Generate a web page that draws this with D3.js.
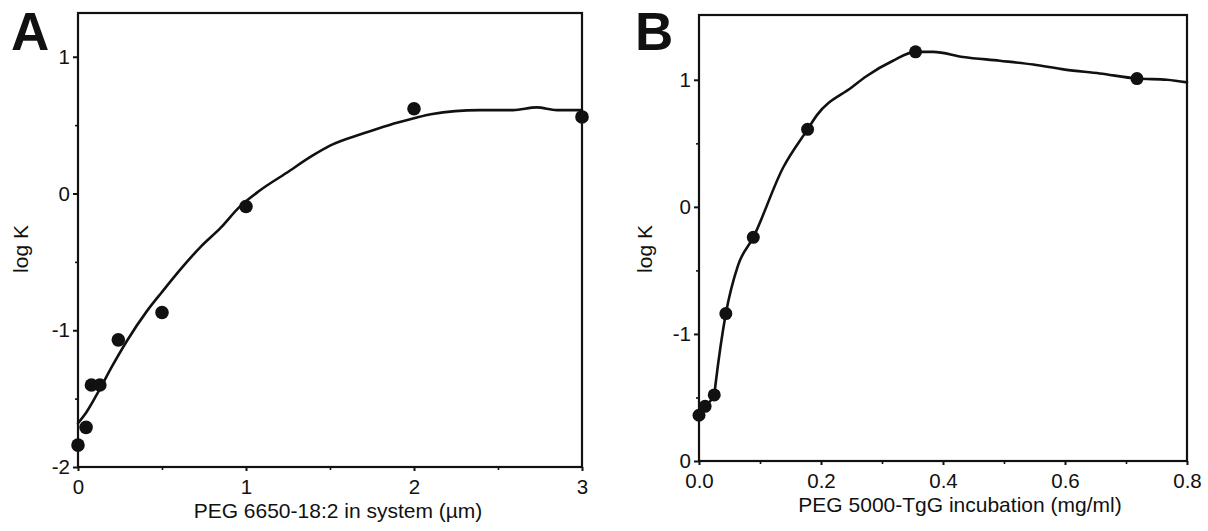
<!DOCTYPE html>
<html>
<head>
<meta charset="utf-8">
<script src="https://cdn.jsdelivr.net/npm/d3@7"></script>
<style>
  html, body { margin: 0; padding: 0; background: #fff; }
  svg { display: block; }
  text { font-family: "Liberation Sans", Arial, Helvetica, sans-serif; fill: #111; }
</style>
</head>
<body>
<svg id="chart" width="1208" height="531"></svg>
<script>
// ---------- Panel A data ----------
const aPointsX = [0, 0.048, 0.08, 0.13, 0.24, 0.50, 1.0, 2.0, 3.0];
const aPointsY = [-1.84, -1.71, -1.40, -1.40, -1.07, -0.87, -0.095, 0.62, 0.56];
const aCurveX = [0, 0.05, 0.13, 0.2, 0.29, 0.41, 0.5, 0.62, 0.73, 0.85, 0.96, 1.08, 1.24, 1.4, 1.5, 1.7, 1.85, 2.0, 2.1, 2.39, 2.59, 2.73, 2.85, 3.0];
const aCurveY = [-1.68, -1.60, -1.43, -1.27, -1.08, -0.86, -0.72, -0.54, -0.39, -0.25, -0.10, 0.02, 0.15, 0.28, 0.35, 0.44, 0.50, 0.55, 0.58, 0.61, 0.61, 0.63, 0.61, 0.61];
const aXTicks = [0, 1, 2, 3];
const aXTickLabels = ["0", "1", "2", "3"];
const aYTicks = [-2, -1, 0, 1];
const aYTickLabels = ["-2", "-1", "0", "1"];
const aXTitle = "PEG 6650-18:2 in system (\u00B5m)";

// ---------- Panel B data ----------
const bPointsX = [0, 0.01, 0.025, 0.044, 0.089, 0.178, 0.355, 0.718];
const bPointsY = [-1.64, -1.57, -1.48, -0.84, -0.24, 0.61, 1.22, 1.01];
const bCurveX = [0, 0.01, 0.025, 0.027, 0.044, 0.064, 0.089, 0.138, 0.178, 0.193, 0.25, 0.275, 0.318, 0.355, 0.384, 0.433, 0.493, 0.548, 0.60, 0.657, 0.718, 0.767, 0.8];
const bCurveY = [-1.64, -1.57, -1.48, -1.40, -0.84, -0.46, -0.24, 0.31, 0.61, 0.72, 0.94, 1.03, 1.15, 1.22, 1.22, 1.18, 1.15, 1.12, 1.08, 1.05, 1.01, 1.0, 0.98];
const bXTicks = [0, 0.2, 0.4, 0.6, 0.8];
const bXTickLabels = ["0.0", "0.2", "0.4", "0.6", "0.8"];
const bYTicks = [-2, -1, 0, 1];
const bYTickLabels = ["0", "-1", "0", "1"];
const bXTitle = "PEG 5000-TgG incubation (mg/ml)";

const yTitle = "log K";

const svg = d3.select("#chart");
svg.append("rect").attr("width", 1208).attr("height", 531).attr("fill", "#fff");

function panel(cfg) {
  const x = d3.scaleLinear().domain(cfg.xDomain).range([cfg.left, cfg.right]);
  const y = d3.scaleLinear().domain(cfg.yDomain).range([cfg.bottom, cfg.top]);
  const g = svg.append("g");

  // frame
  g.append("rect")
    .attr("x", cfg.left).attr("y", cfg.top)
    .attr("width", cfg.right - cfg.left).attr("height", cfg.bottom - cfg.top)
    .attr("fill", "none").attr("stroke", "#111").attr("stroke-width", 2.2);

  // minor ticks
  const xMinorAxis = d3.axisBottom(x).tickValues(cfg.xMinor).tickSize(3).tickFormat("");
  const gxm = g.append("g").attr("transform", `translate(0,${cfg.bottom})`).call(xMinorAxis);
  const yMinorAxis = d3.axisLeft(y).tickValues(cfg.yMinor).tickSize(3).tickFormat("");
  const gym = g.append("g").attr("transform", `translate(${cfg.left},0)`).call(yMinorAxis);
  [gxm, gym].forEach(a => { a.select(".domain").remove(); a.selectAll("line").attr("stroke", "#111").attr("stroke-width", 1.6); });

  // major axes
  const xAxis = d3.axisBottom(x).tickValues(cfg.xTicks).tickSize(4).tickPadding(6)
    .tickFormat((d, i) => cfg.xTickLabels[i]);
  const gx = g.append("g").attr("transform", `translate(0,${cfg.bottom})`).call(xAxis);
  const yAxis = d3.axisLeft(y).tickValues(cfg.yTicks).tickSize(5).tickPadding(3)
    .tickFormat((d, i) => cfg.yTickLabels[i]);
  const gy = g.append("g").attr("transform", `translate(${cfg.left},0)`).call(yAxis);
  [gx, gy].forEach(a => {
    a.select(".domain").remove();
    a.selectAll("line").attr("stroke", "#111").attr("stroke-width", 2);
    a.selectAll("text").attr("font-size", 20.5).attr("fill", "#111")
      .style("font-family", '"Liberation Sans", Arial, sans-serif');
  });
  gx.selectAll("text").attr("dy", null).attr("y", 27).attr("dominant-baseline", "auto");

  // curve
  const pts = cfg.curveX.map((v, i) => [v, cfg.curveY[i]]);
  const line = d3.line().x(d => x(d[0])).y(d => y(d[1])).curve(d3.curveMonotoneX);
  g.append("path").datum(pts).attr("d", line)
    .attr("fill", "none").attr("stroke", "#111").attr("stroke-width", 2.6)
    .attr("stroke-linejoin", "round").attr("stroke-linecap", "round");

  // points
  const dots = cfg.pointsX.map((v, i) => [v, cfg.pointsY[i]]);
  g.selectAll("circle.pt").data(dots).enter().append("circle")
    .attr("class", "pt")
    .attr("cx", d => x(d[0])).attr("cy", d => y(d[1]))
    .attr("r", cfg.r).attr("fill", "#111");

  // axis titles
  g.append("text").attr("x", cfg.xTitleX).attr("y", cfg.bottom + 51)
    .attr("text-anchor", "middle").attr("font-size", 21).text(cfg.xTitle);
  g.append("text")
    .attr("transform", `translate(${cfg.yTitleX},249) rotate(-90)`)
    .attr("text-anchor", "middle").attr("font-size", 21).text(yTitle);

  // panel letter
  g.append("text").attr("x", cfg.letterX).attr("y", 50)
    .attr("font-size", 53).attr("font-weight", "bold").text(cfg.letter);
}

panel({
  letter: "A", letterX: 11,
  xDomain: [0, 3], yDomain: [-2, 1.32],
  left: 78, right: 582, top: 13, bottom: 467,
  xTicks: aXTicks, xTickLabels: aXTickLabels,
  yTicks: aYTicks, yTickLabels: aYTickLabels,
  xMinor: [0.5, 1.5, 2.5], yMinor: [-1.5, -0.5, 0.5],
  curveX: aCurveX, curveY: aCurveY,
  pointsX: aPointsX, pointsY: aPointsY, r: 6.8,
  xTitle: aXTitle, xTitleX: 338, yTitleX: 28
});

panel({
  letter: "B", letterX: 635,
  xDomain: [0, 0.8], yDomain: [-2, 1.51],
  left: 699, right: 1187, top: 15, bottom: 461,
  xTicks: bXTicks, xTickLabels: bXTickLabels,
  yTicks: bYTicks, yTickLabels: bYTickLabels,
  xMinor: [0.1, 0.3, 0.5, 0.7], yMinor: [-1.5, -0.5, 0.5],
  curveX: bCurveX, curveY: bCurveY,
  pointsX: bPointsX, pointsY: bPointsY, r: 6.5,
  xTitle: bXTitle, xTitleX: 960, yTitleX: 652
});
</script>
</body>
</html>
